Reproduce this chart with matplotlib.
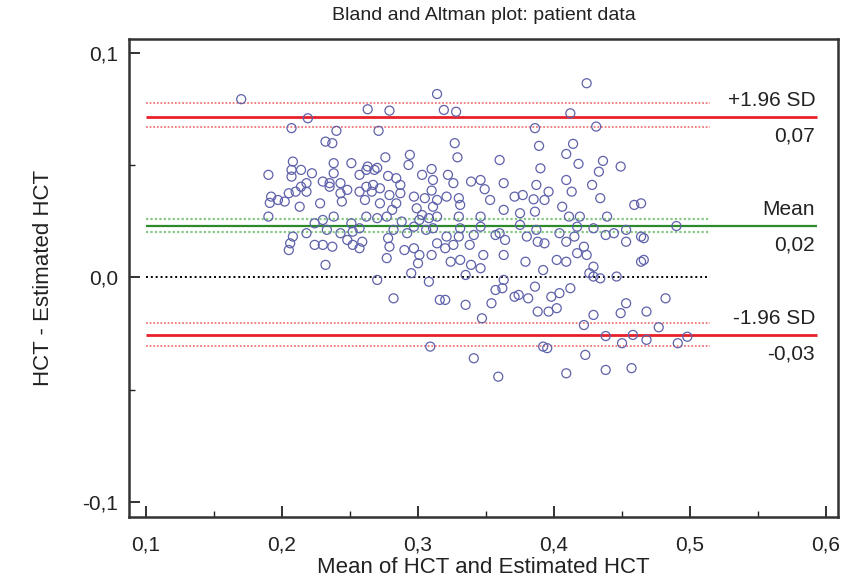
import matplotlib
matplotlib.use("Agg")
import matplotlib.pyplot as plt
from matplotlib.ticker import FixedLocator, FuncFormatter

plt.rcParams['font.family'] = ['Liberation Sans', 'DejaVu Sans']

# mean of HCT and estimated HCT (x) and their difference (y)
mean_hct = [
    0.170, 0.219, 0.207, 0.240, 0.232, 0.237, 0.263, 0.271, 0.314, 0.424,
    0.279, 0.319, 0.328, 0.412, 0.386, 0.431, 0.327, 0.389, 0.414, 0.409,
    0.294, 0.276, 0.329, 0.360, 0.436, 0.433, 0.449, 0.418, 0.390, 0.293,
    0.310, 0.303, 0.322, 0.326, 0.262, 0.270, 0.278, 0.284, 0.267, 0.287,
    0.339, 0.346, 0.349, 0.363, 0.387, 0.396, 0.409, 0.413, 0.428, 0.434,
    0.459, 0.297, 0.305, 0.310, 0.314, 0.321, 0.330, 0.331, 0.353, 0.371,
    0.377, 0.385, 0.393, 0.363, 0.375, 0.386, 0.406, 0.419, 0.439, 0.411,
    0.303, 0.314, 0.330, 0.346, 0.277, 0.282, 0.297, 0.311, 0.331, 0.346,
    0.360, 0.375, 0.387, 0.404, 0.417, 0.429, 0.444, 0.453, 0.190, 0.208,
    0.207, 0.207, 0.214, 0.222, 0.238, 0.238, 0.230, 0.235, 0.251, 0.257,
    0.263, 0.268, 0.192, 0.197, 0.202, 0.205, 0.210, 0.214, 0.218, 0.213,
    0.228, 0.243, 0.244, 0.257, 0.261, 0.266, 0.190, 0.224, 0.230, 0.238,
    0.251, 0.257, 0.262, 0.208, 0.311, 0.191, 0.218, 0.248, 0.243, 0.235,
    0.262, 0.272, 0.272, 0.279, 0.284, 0.281, 0.287, 0.299, 0.311, 0.270,
    0.288, 0.301, 0.308, 0.218, 0.233, 0.243, 0.252, 0.292, 0.306, 0.224,
    0.230, 0.237, 0.248, 0.252, 0.259, 0.257, 0.232, 0.278, 0.279, 0.277,
    0.290, 0.297, 0.301, 0.310, 0.314, 0.300, 0.295, 0.270, 0.308, 0.282,
    0.316, 0.309, 0.321, 0.330, 0.341, 0.357, 0.364, 0.380, 0.388, 0.393,
    0.409, 0.415, 0.320, 0.326, 0.338, 0.348, 0.363, 0.379, 0.402, 0.409,
    0.417, 0.324, 0.331, 0.339, 0.346, 0.335, 0.363, 0.392, 0.357, 0.362,
    0.374, 0.371, 0.381, 0.386, 0.398, 0.404, 0.412, 0.320, 0.335, 0.354,
    0.388, 0.396, 0.402, 0.347, 0.422, 0.392, 0.395, 0.341, 0.359, 0.409,
    0.438, 0.453, 0.464, 0.422, 0.424, 0.429, 0.426, 0.434, 0.446, 0.429,
    0.464, 0.453, 0.449, 0.468, 0.482, 0.429, 0.477, 0.438, 0.458, 0.468,
    0.450, 0.491, 0.498, 0.423, 0.438, 0.457, 0.464, 0.490, 0.466, 0.466,
    0.206, 0.205,
]
diff_hct = [
    0.0794, 0.0709, 0.0665, 0.0653, 0.0605, 0.0598, 0.0749, 0.0653, 0.0817, 0.0865,
    0.0743, 0.0746, 0.0738, 0.0731, 0.0665, 0.0672, 0.0598, 0.0586, 0.0595, 0.0550,
    0.0546, 0.0535, 0.0535, 0.0523, 0.0519, 0.0471, 0.0494, 0.0506, 0.0486, 0.0501,
    0.0483, 0.0457, 0.0457, 0.0420, 0.0479, 0.0488, 0.0452, 0.0442, 0.0412, 0.0412,
    0.0427, 0.0434, 0.0393, 0.0420, 0.0412, 0.0382, 0.0434, 0.0382, 0.0412, 0.0353,
    0.0323, 0.0360, 0.0353, 0.0387, 0.0345, 0.0360, 0.0353, 0.0323, 0.0345, 0.0360,
    0.0367, 0.0348, 0.0345, 0.0301, 0.0286, 0.0293, 0.0315, 0.0271, 0.0271, 0.0271,
    0.0278, 0.0271, 0.0271, 0.0271, 0.0271, 0.0212, 0.0226, 0.0219, 0.0219, 0.0226,
    0.0197, 0.0234, 0.0212, 0.0197, 0.0226, 0.0219, 0.0197, 0.0212, 0.0457, 0.0516,
    0.0479, 0.0449, 0.0479, 0.0464, 0.0509, 0.0464, 0.0427, 0.0420, 0.0509, 0.0457,
    0.0494, 0.0479, 0.0360, 0.0345, 0.0338, 0.0375, 0.0382, 0.0404, 0.0382, 0.0315,
    0.0330, 0.0375, 0.0338, 0.0382, 0.0345, 0.0382, 0.0271, 0.0241, 0.0256, 0.0271,
    0.0241, 0.0219, 0.0271, 0.0182, 0.0434, 0.0332, 0.0420, 0.0390, 0.0420, 0.0404,
    0.0404, 0.0397, 0.0330, 0.0367, 0.0330, 0.0301, 0.0375, 0.0308, 0.0315, 0.0264,
    0.0249, 0.0256, 0.0264, 0.0197, 0.0212, 0.0197, 0.0204, 0.0197, 0.0212, 0.0145,
    0.0145, 0.0137, 0.0167, 0.0145, 0.0159, 0.0130, 0.0056, 0.0175, 0.0137, 0.0086,
    0.0122, 0.0130, 0.0100, 0.0100, 0.0152, 0.0063, 0.0019, -0.0011, -0.0019, -0.0093,
    -0.0100, -0.0308, 0.0182, 0.0182, 0.0189, 0.0189, 0.0167, 0.0182, 0.0159, 0.0152,
    0.0159, 0.0182, 0.0130, 0.0145, 0.0145, 0.0100, 0.0100, 0.0070, 0.0078, 0.0070,
    0.0108, 0.0070, 0.0078, 0.0056, 0.0041, 0.0011, -0.0011, 0.0033, -0.0056, -0.0048,
    -0.0078, -0.0086, -0.0093, -0.0041, -0.0086, -0.0070, -0.0048, -0.0100, -0.0122, -0.0115,
    -0.0152, -0.0152, -0.0137, -0.0182, -0.0212, -0.0308, -0.0315, -0.0360, -0.0442, -0.0427,
    0.0189, 0.0159, 0.0182, 0.0137, 0.0100, 0.0048, 0.0019, -0.0004, 0.0004, 0.0004,
    0.0070, -0.0115, -0.0159, -0.0152, -0.0093, -0.0167, -0.0222, -0.0261, -0.0256, -0.0278,
    -0.0293, -0.0293, -0.0264, -0.0345, -0.0412, -0.0404, 0.0330, 0.0229, 0.0175, 0.0078,
    0.0152, 0.0122,
]

# agreement lines (value, ci low, ci high) and their labels
mean_line = [0.0231, 0.0203, 0.0261]
upper_line = [0.0716, 0.0672, 0.0777]
lower_line = [-0.0256, -0.0305, -0.0201]
line_names = ["+1.96 SD", "Mean", "-1.96 SD"]
line_values = ["0,07", "0,02", "-0,03"]

x_ticks = [0.1, 0.2, 0.3, 0.4, 0.5, 0.6]
y_ticks = [-0.1, 0.0, 0.1]

fig = plt.figure(figsize=(8.5, 5.83), dpi=100)
ax = fig.add_axes([129 / 850, 1 - 517 / 583, 709 / 850, 478 / 583])

# lines first, points on top
x0, x_ci_end, x_line_end = 0.1, 0.515, 0.593
ax.hlines(0, x0, x_ci_end, colors='black', linestyles=(0, (1, 1.5)), lw=1.4)

ax.hlines(mean_line[1:], x0, x_ci_end, colors='#86c986', linestyles=(0, (1, 1)), lw=1.6)
ax.hlines(mean_line[0], x0, x_line_end, colors='#2c8a2c', lw=1.6)
for lim in (upper_line, lower_line):
    ax.hlines(lim[1:], x0, x_ci_end, colors='#f07878', linestyles=(0, (1, 1)), lw=1.3)
    ax.hlines(lim[0], x0, x_line_end, colors='#e8202a', lw=2.0)

ax.scatter(mean_hct, diff_hct, s=42, facecolors='none', edgecolors='#5f62aa', linewidths=0.9, zorder=3)

for lim, name, val in zip([upper_line, mean_line, lower_line], line_names, line_values):
    ax.annotate(name, (0.592, lim[0]), xytext=(0, 5), textcoords='offset points',
                ha='right', va='bottom', fontsize=15, color='#222222')
    ax.annotate(val, (0.592, lim[0]), xytext=(0, -7), textcoords='offset points',
                ha='right', va='top', fontsize=15, color='#222222')

ax.set_xlim(0.0875, 0.6088)
ax.set_ylim(-0.1067, 0.1062)

comma = FuncFormatter(lambda v, p: f"{v:.1f}".replace('.', ','))
ax.xaxis.set_major_locator(FixedLocator(x_ticks))
ax.xaxis.set_minor_locator(FixedLocator([0.15, 0.25, 0.35, 0.45, 0.55]))
ax.yaxis.set_major_locator(FixedLocator(y_ticks))
ax.yaxis.set_minor_locator(FixedLocator([-0.05, 0.05]))
ax.xaxis.set_major_formatter(comma)
ax.yaxis.set_major_formatter(comma)
ax.tick_params(which='major', direction='in', length=8, width=1.3, labelsize=15, colors='#222222', pad=8)
ax.tick_params(axis='x', which='major', pad=13)
ax.tick_params(which='minor', direction='in', length=4, width=1.0, colors='#222222')

for sp in ax.spines.values():
    sp.set_linewidth(1.8)
    sp.set_color('#333333')

ax.set_title("Bland and Altman plot: patient data", fontsize=14, color='#222222', pad=14)
ax.set_xlabel("Mean of HCT and Estimated HCT", fontsize=16, color='#222222', labelpad=2)
ax.set_ylabel("HCT - Estimated HCT", fontsize=16, color='#222222', labelpad=20)

fig.savefig("out.png", dpi=100)
